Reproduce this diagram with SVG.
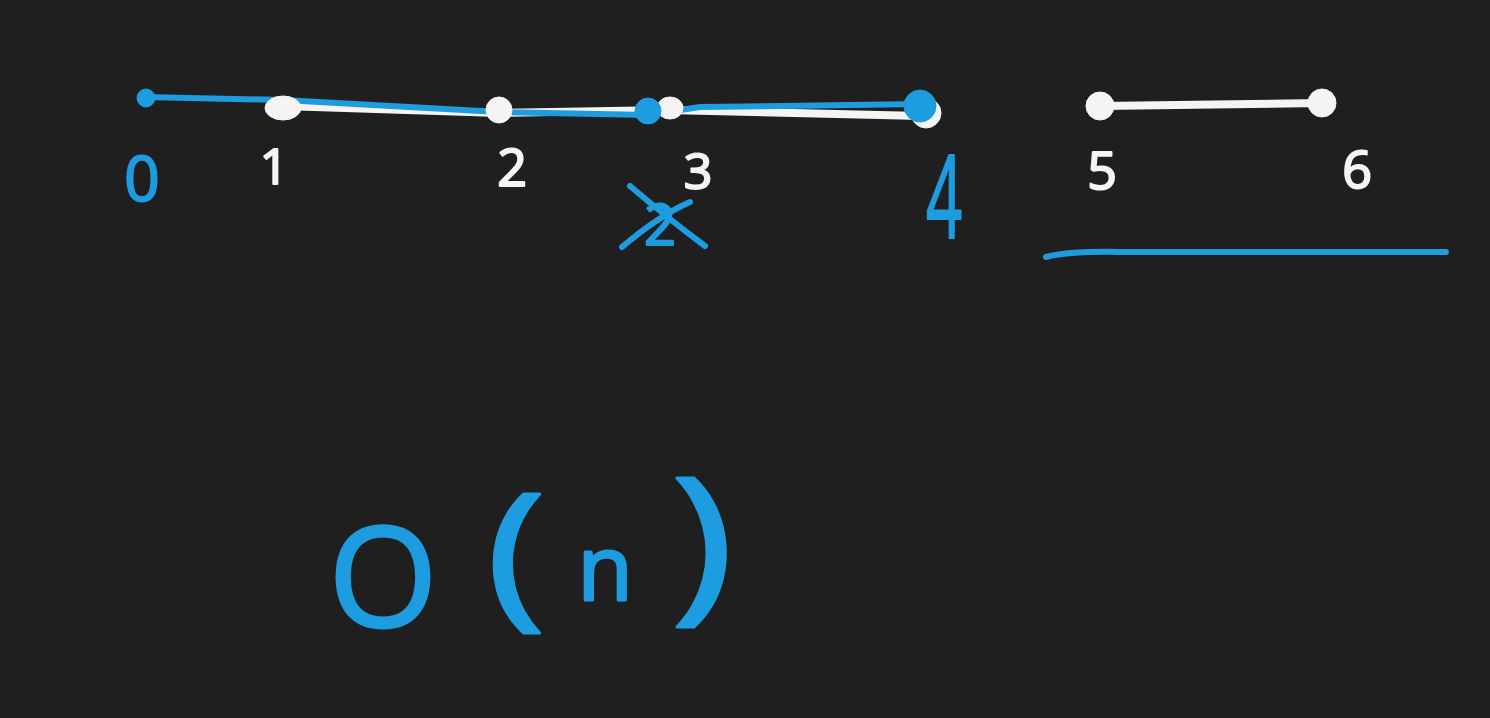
<svg xmlns="http://www.w3.org/2000/svg" width="1490" height="718" viewBox="0 0 1490 718">
<style>
.w{fill:#f4f4f4;stroke:#f4f4f4}
.b{fill:#1d9ce0;stroke:#1d9ce0}
.we{stroke:#f4f4f4;stroke-width:8;stroke-linecap:round;fill:none}
.be{stroke:#1d9ce0;stroke-width:6;stroke-linecap:round;stroke-linejoin:round;fill:none}
.t{font-family:"Open Sans","Liberation Sans",sans-serif;font-weight:400;stroke-width:2;stroke-linejoin:round}
.big{stroke-width:3}
</style>
<rect width="1490" height="718" fill="#1f1f1f"/>
<g id="connectors">
<path class="we" d="M283 106 L499 113 L668 110 L922 116"/>
<path class="we" d="M1100 106 L1322 103"/>
<path class="be" d="M145 97 L283 100 L499 112 L648 115 L700 107 L922 104"/>
<path class="be" d="M1046 257 Q1070 251 1120 252 L1446 252"/>
</g>
<g id="node0"><circle class="b" cx="146" cy="98" r="9"/><text class="t b" x="142" y="201" font-size="62" text-anchor="middle">0</text></g>
<g id="node1"><ellipse class="w" cx="283" cy="108" rx="18" ry="12"/><text class="t w" x="274" y="184" font-size="50" text-anchor="middle">1</text></g>
<g id="node2"><circle class="w" cx="499" cy="110" r="13"/><text class="t w" x="512" y="186" font-size="52" text-anchor="middle">2</text></g>
<g id="node3"><ellipse class="w" cx="670" cy="108" rx="13" ry="11"/><circle class="b" cx="648" cy="111" r="13"/><text class="t w" x="698" y="189" font-size="50" text-anchor="middle">3</text>
<text class="t b" x="660" y="245" font-size="56" text-anchor="middle">2</text>
<path class="be" d="M622 247 Q660 215 690 202"/><path class="be" d="M630 186 Q670 220 705 246"/></g>
<g id="node4"><circle class="w" cx="926" cy="113" r="15"/><circle class="b" cx="920" cy="106" r="16"/><text class="t b" x="944" y="238" font-size="115" text-anchor="middle" transform="translate(944 0) scale(0.55 1) translate(-944 0)">4</text></g>
<g id="node5"><circle class="w" cx="1100" cy="106" r="14"/><text class="t w" x="1102" y="189" font-size="52" text-anchor="middle">5</text></g>
<g id="node6"><circle class="w" cx="1322" cy="103" r="14"/><text class="t w" x="1357" y="188" font-size="52" text-anchor="middle">6</text></g>
<g id="complexity">
<text class="t b big" x="383" y="627" font-size="140" text-anchor="middle">O</text>
<text class="t b big" x="516" y="608" font-size="160" text-anchor="middle" transform="translate(516 0) scale(1.25 1) translate(-516 0)">(</text>
<text class="t b big" x="605" y="600" font-size="90" text-anchor="middle">n</text>
<text class="t b big" x="702" y="600" font-size="170" text-anchor="middle" transform="translate(702 0) scale(1.25 1) translate(-702 0)">)</text>
</g>
</svg>
